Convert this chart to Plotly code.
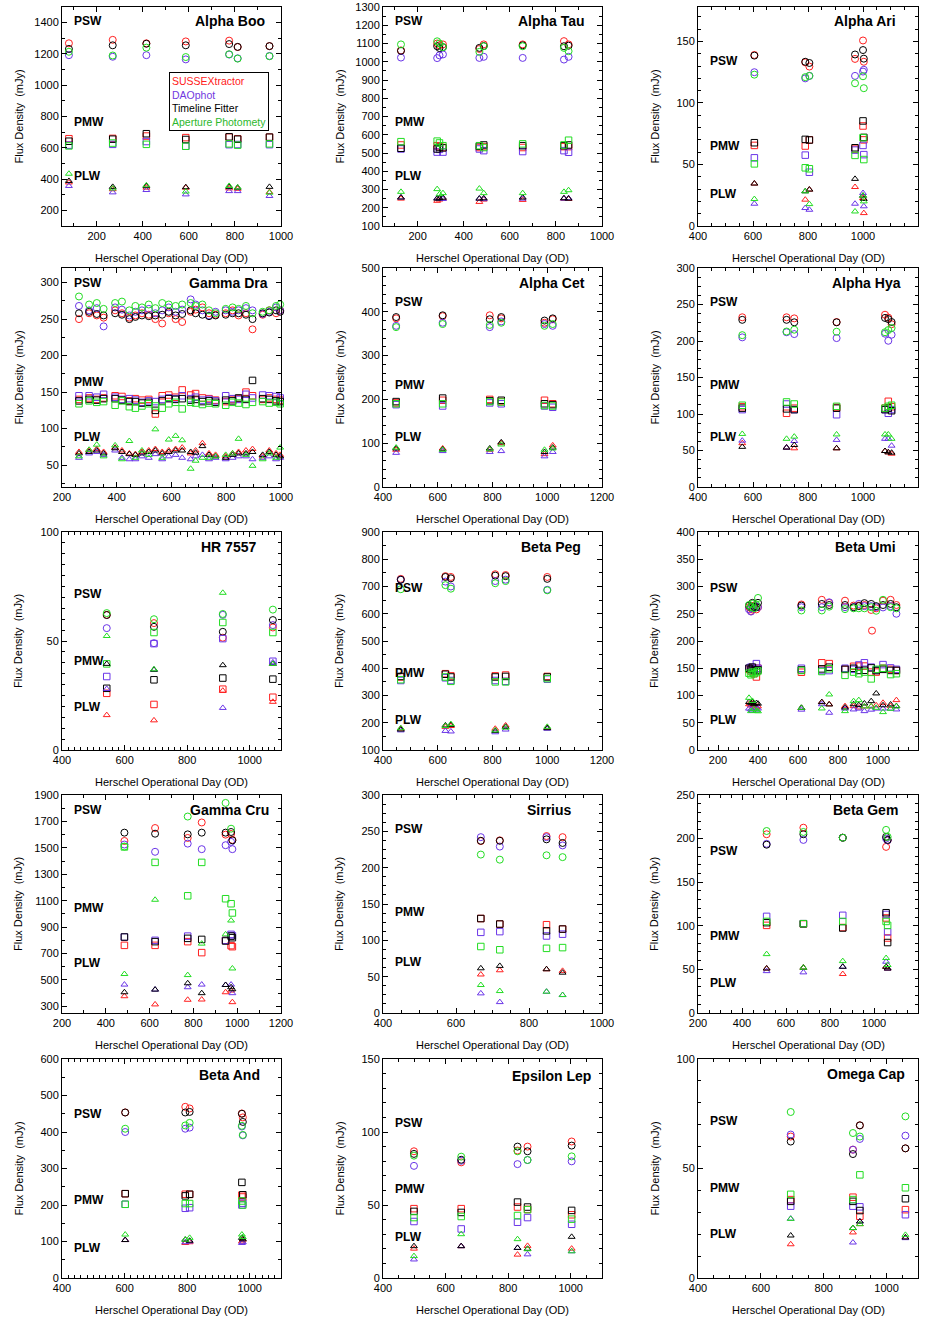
import plotly.graph_objects as go

W, H = 928, 1324

# ---------------- DATA (tuples are SUSSEXtractor, DAOphot, Timeline Fitter, Aperture Photometry) -------------
BOO_OD = [80, 270, 416, 587, 775, 812, 950]
BOO_PSW = [(1268, 1192, 1232, 1214), (1290, 1182, 1255, 1190), (1268, 1192, 1265, 1240), (1280, 1165, 1255, 1180),
           (1285, 1196, 1263, 1198), (1244, 1172, 1245, 1170), (1250, 1187, 1250, 1185)]
BOO_PMW = [(658, 617, 642, 612), (660, 622, 655, 630), (675, 640, 690, 622), (665, 610, 653, 610),
           (668, 620, 670, 625), (657, 621, 655, 617), (668, 620, 668, 625)]
BOO_PLW = [(378, 356, 388, 434), (335, 315, 350, 340), (345, 330, 355, 360), (345, 302, 348, 320),
           (340, 323, 350, 356), (338, 323, 345, 346), (317, 292, 350, 313)]

TAU_OD = [128, 285, 295, 310, 468, 487, 656, 835, 855]
TAU_PSW = [(1062, 1023, 1060, 1095), (1100, 1020, 1085, 1112), (1090, 1035, 1075, 1100), (1095, 1040, 1080, 1080),
           (1070, 1021, 1076, 1054), (1095, 1027, 1086, 1085), (1095, 1021, 1090, 1085), (1113, 1012, 1085, 1076),
           (1095, 1027, 1088, 1058)]
TAU_PMW = [(544, 522, 526, 562), (540, 505, 522, 565), (535, 520, 530, 555), (530, 505, 528, 540),
           (530, 522, 537, 540), (535, 513, 544, 530), (530, 508, 540, 550), (535, 513, 540, 544),
           (535, 504, 544, 570)]
TAU_PLW = [(250, 256, 256, 287), (238, 252, 250, 302), (245, 250, 252, 274), (250, 248, 255, 280),
           (232, 250, 250, 305), (245, 247, 252, 280), (243, 250, 256, 280), (250, 250, 252, 287),
           (248, 252, 250, 296)]

ARI_OD = [605, 790, 805, 971, 1000, 1003]
ARI_PSW = [(139, 125, 138.5, 123), (133, 120, 133.5, 121), (129.6, 122, 132.5, 122), (135.8, 122, 139.4, 116),
           (150.8, 125.5, 143, 121.7), (133.5, 127, 136, 112)]
ARI_PMW = [(65.5, 55.4, 67.7, 50.5), (65, 57.6, 70.4, 47.3), (70, 43.7, 69.9, 46.5), (62.5, 61.7, 63.6, 57.4),
           (81.3, 65.5, 85.4, 71.8), (70, 58, 72, 54)]
ARI_PLW = [(34.5, 18.1, 34.5, 21.9), (21.4, 14.6, 28.2, 28.2), (29.6, 13.2, 29.6, 17.8), (31.7, 18.1, 38.3, 11.8),
           (22.7, 26.8, 24.6, 24.6), (10.5, 16, 22, 20)]

DRA_OD = [262, 299, 327, 352, 394, 419, 446, 468, 492, 517, 541, 566, 590, 615, 639, 670, 688, 713, 737, 761,
          798, 823, 845, 872, 896, 933, 957, 982, 997]
DRA_PSW = [(250, 268, 258, 281), (258, 262, 260, 270), (255, 265, 257, 272), (252, 240, 255, 264),
           (262, 266, 258, 272), (258, 263, 256, 274), (252, 255, 250, 262), (255, 260, 253, 268),
           (258, 262, 255, 266), (256, 264, 254, 270), (250, 258, 255, 265), (244, 262, 256, 272),
           (258, 266, 260, 270), (250, 260, 255, 268), (246, 263, 257, 270), (260, 277, 262, 272),
           (263, 270, 258, 268), (266, 262, 256, 270), (258, 255, 254, 262), (256, 260, 255, 258),
           (258, 262, 256, 264), (262, 260, 258, 266), (255, 262, 258, 264), (258, 265, 256, 268),
           (236, 262, 250, 258), (256, 257, 258, 260), (262, 260, 259, 262), (258, 266, 262, 268),
           (262, 262, 260, 270)]
DRA_PMW = [(140, 145, 138, 134), (142, 145, 140, 138), (140, 143, 139, 136), (142, 147, 141, 137),
           (145, 143, 141, 132), (144, 140, 139, 138), (138, 141, 137, 130), (141, 139, 137, 128),
           (139, 136, 135, 131), (140, 138, 136, 134), (120, 137, 125, 131), (145, 140, 138, 128),
           (146, 142, 141, 134), (143, 141, 140, 136), (153, 145, 141, 127), (146, 141, 139, 136),
           (148, 143, 140, 135), (142, 139, 137, 133), (141, 140, 138, 135), (139, 138, 136, 134),
           (137, 145, 139, 132), (140, 141, 138, 136), (141, 140, 142, 135), (150, 147, 140, 133),
           (145, 142, 166, 136), (140, 146, 141, 137), (142, 145, 140, 135), (140, 144, 138, 136),
           (139, 142, 137, 134)]
DRA_PLW = [(68, 60, 66, 62), (70, 66, 68, 71), (72, 68, 70, 78), (68, 64, 66, 62), (74, 70, 73, 77),
           (70, 60, 68, 58), (66, 58, 65, 83), (65, 58, 64, 60), (68, 62, 66, 70), (70, 60, 68, 64),
           (72, 65, 70, 99), (68, 58, 66, 60), (70, 62, 68, 85), (72, 64, 70, 90), (74, 60, 70, 84),
           (66, 58, 68, 45), (70, 62, 67, 56), (80, 64, 76, 60), (66, 58, 64, 60), (64, 60, 62, 62),
           (62, 58, 60, 64), (66, 60, 64, 66), (68, 62, 66, 86), (70, 62, 66, 64), (72, 58, 68, 49),
           (62, 60, 64, 58), (70, 62, 68, 66), (66, 58, 64, 60), (64, 60, 62, 74)]

CET_OD = [448, 618, 790, 832, 990, 1020]
CET_PSW = [(385, 368, 388, 365), (390, 375, 392, 372), (392, 365, 383, 370), (385, 378, 388, 375),
           (375, 372, 380, 368), (383, 368, 385, 372)]
CET_PMW = [(192, 188, 195, 190), (198, 185, 203, 190), (200, 192, 197, 195), (195, 190, 198, 194),
           (198, 185, 190, 186), (190, 182, 188, 185)]
CET_PLW = [(85, 78, 88, 90), (88, 82, 86, 85), (85, 80, 88, 86), (100, 82, 102, 97), (75, 70, 80, 85),
           (95, 80, 90, 88)]

HYA_OD = [561, 722, 750, 904, 1080, 1092, 1104]
HYA_PSW = [(232.5, 205, 229, 208), (232.5, 212, 229, 213), (231, 209.5, 225.6, 215.5), (226, 204, 225.6, 212.7),
           (236, 210, 231.6, 212), (232, 200.3, 230, 215), (223, 208.6, 226, 217.8)]
HYA_PMW = [(110, 106, 108, 112), (101, 113.7, 107, 116.5), (108, 106, 106, 113.7), (109, 99, 108, 110.5),
           (108, 106, 106, 108), (117.4, 101, 108, 110.5), (110, 106, 104.5, 112)]
HYA_PLW = [(60, 63.5, 55, 72.7), (54, 54, 54, 66), (53, 63, 57.5, 69), (53, 64.5, 53, 72),
           (49.3, 66, 49.3, 72), (47.5, 66, 47.5, 72), (45.6, 56.6, 47, 66)]

HR_OD = [543, 694, 914, 1074]
HR_PSW = [(62, 55.9, 61.9, 62.8), (58.2, 49, 56.5, 60), (51.5, 62, 54.2, 62.4), (56.2, 57.3, 59.6, 64.4)]
HR_PMW = [(26, 33.7, 28.3, 39.5), (20.9, 48.8, 32.2, 53.9), (27.9, 51.1, 33, 58.5), (24.2, 40.7, 32.5, 53.9)]
HR_PLW = [(16, 28, 39.5, 52.3), (13.6, 36.8, 36.8, 37), (27.2, 19.3, 38.9, 72.1), (22.1, 40.2, 39.5, 39.5)]

PEG_OD = [465, 628, 648, 810, 848, 1000]
PEG_PSW = [(728, 725, 725, 690), (738, 718, 735, 705), (735, 700, 730, 692), (745, 720, 740, 712),
           (742, 725, 738, 720), (735, 688, 728, 686)]
PEG_PMW = [(368, 355, 370, 358), (380, 365, 378, 368), (372, 355, 368, 352), (372, 355, 368, 350),
           (375, 352, 370, 350), (370, 360, 368, 362)]
PEG_PLW = [(178, 172, 175, 180), (185, 170, 190, 188), (188, 168, 192, 195), (178, 165, 170, 172),
           (190, 175, 185, 182), (182, 178, 180, 185)]

UMI_OD = [355, 365, 372, 380, 392, 400, 617, 719, 756, 835, 878, 904, 932, 966, 970, 991, 1025, 1063, 1092]
UMI_PSW = [(262, 258, 265, 266), (255, 254, 262, 262), (258, 260, 270, 268), (265, 262, 263, 260),
           (258, 264, 262, 266), (262, 262, 270, 279), (267, 262, 265, 256), (275.6, 262, 268, 256),
           (270, 271, 266, 263), (274, 262, 266, 258.5), (265, 262, 262, 260), (265, 268, 264, 260),
           (266, 264, 269.5, 260), (257, 264, 268, 262), (219, None, None, None), (260, 262, 264, 255.5),
           (274, 261.6, 266, 275.6), (275.6, 264, 268, 262), (266, 250, 262, 260)]
UMI_PMW = [(148, 150, 150, 141), (145, 152, 148, 138), (150, 147, 152, 143), (140, 148, 146, 140),
           (134, 158.5, 145, 142), (150, 150, 147, 145), (142.7, 150, 147, 146), (160, 145.7, 148.8, 144),
           (158.5, 145.7, 152, 149), (148, 150, 148, 137), (153.6, 148, 150, 143), (154, 156, 146, 140),
           (154, 160, 146.3, 143), (143, 152, 150.6, 130.5), (None, None, None, None), (143, 147, 145.7, 148),
           (150, 156.7, 148, 150), (148, 150.6, 146, 138.4), (146, 148, 146, 140)]
UMI_PLW = [(84, 76, 88, 95.7), (81.7, 74.4, 86, 71.3), (85, 72, 88, 90), (82, 76, 84, 75),
           (78, 74, 86, 72), (80, 76, 85, 71), (77, 74, 77.4, 77.4), (87.8, 84, 87.8, 76.2),
           (84, 68.3, 83.5, 101.9), (80.5, 76, 78, 71.3), (80.5, 74.4, 84, 89.6), (78, 76, 82.3, 91.5),
           (80, 71.3, 85.4, 80), (80, 74, 89.6, 80), (None, None, None, None), (82, 76, 103.8, 77.4),
           (86.6, 76, 82, 69.5), (80.5, 76, 83.5, 75.6), (91.5, 74.4, 80.5, 80)]

CRU_OD = [485, 625, 774, 838, 947, 972, 978]
CRU_PSW = [(1552, 1525, 1615, 1510), (1650, 1470, 1607, None), (1575, 1532, 1602, 1737), (1692, 1490, 1615, None),
           (1600, 1520, 1615, 1840), (1605, 1545, 1620, 1645), (1560, 1490, 1557, None)]
CRU_PMW = [(762, 825, 825, 1507), (762, 800, 790, 1390), (790, 832, 815, 1137), (707, None, 807, 1390),
           (800, 800, 795, 1115), (760, 845, 832, 1077), (752, 835, 820, 1007)]
CRU_PLW = [(377, 465, 407, 545), (315, 427, 427, 1107), (350, 445, 475, 537), (352, 465, 400, 775),
           (407, 462, 462, 845), (420, 465, 445, 950), (332, 400, 430, 587)]

SIR_OD = [668, 720, 848, 892]
SIR_PSW = [(236.6, 242, 237, 218), (237.6, 229, 237, 211), (243.5, 242, 239, 217), (242, 230.6, 234, 214.5)]
SIR_PMW = [(130, 111, 130, 91.5), (122.4, 112, 122.4, 87), (121.5, 106, 113, 89), (115.5, 108.5, 115.5, 90)]
SIR_PLW = [(53, 27, 61.5, 38.5), (58.8, 15, 64.8, 30.2), (60.2, 29.3, 60.2, 29.3), (58, 24.7, 55.5, 24.7)]

GEM_OD = [512, 679, 858, 1055, 1062]
GEM_PSW = [(205, 194, 193, 208.7), (212.5, 198.5, 205, 207.6), (201, 201, 201, 201), (190.5, 200, 202, 210),
           (198, 198, 198.5, 202)]
GEM_PMW = [(100.5, 110.8, 103.6, 105), (102, 102.4, 102.4, 102.4), (98, 112, 97.5, 105), (109, 113, 115, 105),
           (86, 93, 80.8, 100.5)]
GEM_PLW = [(51, 48, 51, 67.5), (52, 46.6, 52, 52), (44.7, 53, 53, 59.5), (53, 58.8, 53, 63), (51, 51, 51, 55)]

AND_OD = [602, 794, 808, 975, 978]
AND_PSW = [(453.5, 400, 453.5, 409), (469, 409, 453.5, 418), (464.5, 412, 455, 425), (450.7, 415, 450, 417),
           (440, 390.8, 427.6, 392)]
AND_PMW = [(231, 202, 231, 202), (229.5, 191, 225, 204), (229, 192.6, 229.5, 204), (227, 200, 262, 211),
           (222, 205, 228, 200)]
AND_PLW = [(104, 104, 104, 119), (96, 98, 105, 105), (98, 100, 102, 110), (100, 96, 110, 119), (105, 98, 106, 112)]

LEP_OD = [499, 650, 830, 862, 1003]
LEP_PSW = [(86.8, 76.8, 85, 83.8), (79.2, 80.3, 81, 83.1), (87.3, 78, 90, 86.8), (90, 80.8, 86.8, 80.8),
           (93.5, 79.9, 90.7, 83.3)]
LEP_PMW = [(47.5, 38.7, 45.6, 41.4), (47.5, 33.6, 44.9, 42.1), (48.6, 38.2, 52, 42.8), (47, 41.4, 48.6, 46.8),
           (43.3, 36.8, 46.3, 40.3)]
LEP_PLW = [(20.1, 12.7, 21.8, 15), (21.8, 21.8, 21.8, 30), (16, 20.6, 20.6, 26.6), (22, 16.2, 20, 19.7),
           (20.1, 18.3, 28.2, 18.3)]

CAP_OD = [695, 893, 915, 1060]
CAP_PSW = [(64.6, 65.5, 62.3, 75.8), (58.6, 58.6, 56.6, 66.2), (69.7, 63.5, 69.7, 64.6), (59.2, 65, 59.2, 73.8)]
CAP_PMW = [(35.8, 32.8, 35, 38.2), (36.9, 32.8, 35, 35.8), (28.2, 32.5, 30.8, 47.1), (31.2, 28.9, 36.2, 41.2)]
CAP_PLW = [(15.4, 27.1, 19.4, 27), (20.8, 16.2, 22.8, 22.8), (24.6, 25.8, 25.8, 24.6), (18.5, 18.2, 18.5, 19.7)]

METHODS = ["SUSSEXtractor", "DAOphot", "Timeline Fitter", "Aperture Photomety"]
BANDS = ["PSW", "PMW", "PLW"]

PANELS = [
    ("Alpha Boo", BOO_OD, BOO_PSW, BOO_PMW, BOO_PLW),
    ("Alpha Tau", TAU_OD, TAU_PSW, TAU_PMW, TAU_PLW),
    ("Alpha Ari", ARI_OD, ARI_PSW, ARI_PMW, ARI_PLW),
    ("Gamma Dra", DRA_OD, DRA_PSW, DRA_PMW, DRA_PLW),
    ("Alpha Cet", CET_OD, CET_PSW, CET_PMW, CET_PLW),
    ("Alpha Hya", HYA_OD, HYA_PSW, HYA_PMW, HYA_PLW),
    ("HR 7557", HR_OD, HR_PSW, HR_PMW, HR_PLW),
    ("Beta Peg", PEG_OD, PEG_PSW, PEG_PMW, PEG_PLW),
    ("Beta Umi", UMI_OD, UMI_PSW, UMI_PMW, UMI_PLW),
    ("Gamma Cru", CRU_OD, CRU_PSW, CRU_PMW, CRU_PLW),
    ("Sirrius", SIR_OD, SIR_PSW, SIR_PMW, SIR_PLW),
    ("Beta Gem", GEM_OD, GEM_PSW, GEM_PMW, GEM_PLW),
    ("Beta And", AND_OD, AND_PSW, AND_PMW, AND_PLW),
    ("Epsilon Lep", LEP_OD, LEP_PSW, LEP_PMW, LEP_PLW),
    ("Omega Cap", CAP_OD, CAP_PSW, CAP_PMW, CAP_PLW),
]

# axis scales: (min, max, tick0, dtick, minor dtick)
X_AXES = [(50, 1000, 200, 200, 100), (50, 1000, 200, 200, 100), (400, 1200, 400, 200, 50),
          (200, 1000, 200, 200, 50), (400, 1200, 400, 200, 50), (400, 1200, 400, 200, 50),
          (400, 1100, 400, 200, 20), (400, 1200, 400, 200, 50), (100, 1200, 200, 200, 50),
          (200, 1200, 200, 200, 100), (400, 1000, 400, 200, 50), (200, 1200, 200, 200, 50),
          (400, 1100, 400, 200, 20), (400, 1100, 400, 200, 50), (400, 1100, 400, 200, 50)]
Y_AXES = [(100, 1500, 200, 200, 100), (100, 1300, 100, 100, 50), (0, 178, 0, 50, 10),
          (20, 320, 50, 50, 25), (0, 500, 0, 100, 20), (0, 300, 0, 50, 12.5),
          (0, 100, 0, 50, 5), (100, 900, 100, 100, 50), (0, 400, 0, 50, 25),
          (250, 1900, 300, 200, 100), (0, 300, 0, 50, 12.5), (0, 250, 0, 50, 10),
          (0, 600, 0, 100, 50), (0, 150, 0, 50, 10), (0, 100, 0, 50, 10)]

# ---------------- STYLE / LAYOUT ----------------
COLORS = ["#ff1f1f", "#6a35e8", "#000000", "#22dd22"]
LEG_COLORS = ["#ff2020", "#7238e0", "#000000", "#2cb82c"]
SYMBOLS = ["circle-open", "square-open", "triangle-up-open"]
SIZES = [7, 6.5, 6]

COLS = [(62, 281), (383, 602), (698, 918)]
ROWS = [(7, 226), (268, 487), (532, 750), (795, 1013), (1059, 1278)]
YLAB_X = [18, 339, 654]
BAND_LABEL_Y = [(21, 122, 176), (21, 122, 176), (61, 146, 194), (283, 382, 437), (302, 385, 437), (302, 385, 437),
                (594, 661, 707), (588, 673, 720), (588, 673, 720), (810, 908, 963), (829, 912, 962), (851, 936, 983),
                (1114, 1200, 1248), (1123, 1189, 1237), (1121, 1188, 1234)]
TITLE_RIGHT = [267, 587, 898, 270, 587, 903, 258, 583, 898, 271, 574, 900, 262, 593, 907]
TITLE_Y = [21, 21, 21, 283, 283, 283, 547, 547, 547, 810, 810, 810, 1075, 1076, 1074]

FONT = "Liberation Sans, Arial, sans-serif"


def px(x):
    return x / W


def py(y):
    return 1 - y / H


fig = go.Figure()
layout = dict(width=W, height=H, margin=dict(l=0, r=0, t=0, b=0, pad=0, autoexpand=False), paper_bgcolor="white",
              plot_bgcolor="white", showlegend=False, font=dict(family=FONT, size=11, color="black"))
annotations = []

for i, (name, od, psw, pmw, plw) in enumerate(PANELS):
    r, c = divmod(i, 3)
    k = "" if i == 0 else str(i + 1)
    xl, xr = COLS[c]
    yt, yb = ROWS[r]
    xa = X_AXES[i]
    ya = Y_AXES[i]
    common = dict(showline=True, linecolor="black", linewidth=1, mirror="allticks", ticks="inside",
                  ticklen=5, tickwidth=1, tickcolor="black", showgrid=False, zeroline=False, automargin=False,
                  tickfont=dict(family=FONT, size=11, color="black"))
    layout["xaxis" + k] = dict(common, domain=[px(xl), px(xr)], range=[xa[0], xa[1]], tick0=xa[2], dtick=xa[3],
                               anchor="y" + k,
                               minor=dict(ticks="inside", ticklen=3, tick0=xa[2], dtick=xa[4], tickcolor="black",
                                          showgrid=False))
    layout["yaxis" + k] = dict(common, domain=[py(yb), py(yt)], range=[ya[0], ya[1]], tick0=ya[2], dtick=ya[3],
                               anchor="x" + k,
                               minor=dict(ticks="inside", ticklen=3, tick0=ya[2], dtick=ya[4], tickcolor="black",
                                          showgrid=False))
    for b, band in enumerate([psw, pmw, plw]):
        for m in range(4):
            fig.add_trace(go.Scatter(
                x=od, y=[row[m] for row in band], mode="markers", name=METHODS[m] + " " + BANDS[b],
                xaxis="x" + k, yaxis="y" + k,
                marker=dict(symbol=SYMBOLS[b], size=SIZES[b], color=COLORS[m], line=dict(width=1, color=COLORS[m])),
                cliponaxis=False, hoverinfo="x+y+name"))
    annotations.append(dict(text="<b>%s</b>" % name, x=px(TITLE_RIGHT[i]), y=py(TITLE_Y[i]), xref="paper",
                            yref="paper", xanchor="right", yanchor="middle", showarrow=False,
                            font=dict(family=FONT, size=14, color="black")))
    for b in range(3):
        annotations.append(dict(text="<b>%s</b>" % BANDS[b], x=px(xl + 10), y=py(BAND_LABEL_Y[i][b]), xref="paper",
                                yref="paper", xanchor="left", yanchor="middle", showarrow=False,
                                font=dict(family=FONT, size=12, color="black")))
    annotations.append(dict(text="Herschel Operational Day (OD)", x=px((xl + xr) / 2), y=py(yb + 32), xref="paper",
                            yref="paper", xanchor="center", yanchor="middle", showarrow=False,
                            font=dict(family=FONT, size=11, color="black")))
    annotations.append(dict(text="Flux Density  (mJy)", x=px(YLAB_X[c]), y=py((yt + yb) / 2), xref="paper",
                            yref="paper", xanchor="center", yanchor="middle", textangle=-90, showarrow=False,
                            font=dict(family=FONT, size=11, color="black")))

legend_text = "<br>".join('<span style="color:%s">%s</span>' % (LEG_COLORS[m], METHODS[m]) for m in range(4))
annotations.append(dict(text=legend_text, x=px(169), y=py(72), xref="paper", yref="paper", xanchor="left",
                        yanchor="top", align="left", showarrow=False, bordercolor="black", borderwidth=1,
                        borderpad=2, bgcolor="white", font=dict(family=FONT, size=10.5)))

layout["annotations"] = annotations
fig.update_layout(**layout)
fig.write_html("out.html", config={"displayModeBar": False},
               post_script="document.body.style.margin='0px';document.body.style.overflow='hidden';")
